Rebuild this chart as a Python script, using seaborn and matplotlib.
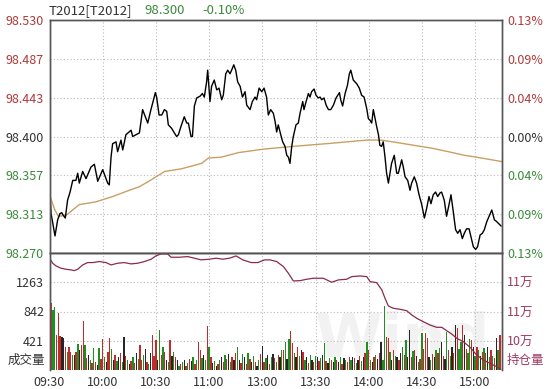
import matplotlib
matplotlib.use("Agg")
import matplotlib.pyplot as plt
import seaborn as sns
import pandas as pd
import numpy as np

# ---- data ----
time_ticks = [0, 30, 60, 90, 120, 150, 180, 210, 240]
time_labels = ["09:30", "10:00", "10:30", "11:00", "13:00", "13:30", "14:00", "14:30", "15:00"]

prev_settle = 98.400
price_ticks = [98.270, 98.313, 98.357, 98.400, 98.443, 98.487, 98.530]

# minute index (lunch break collapsed) and last price
price_min = [0, 0.9, 3.1, 4.6, 5.9, 6.9, 7.8, 8.9, 10.2, 11.6, 13.1, 14.9, 15.9, 16.8, 18.7, 20.6,
             23.4, 25.3, 27.2, 30.0, 32.8, 33.7, 34.7, 35.6, 37.5, 38.4, 40.3, 41.3, 43.1, 46.0, 46.9,
             50.7, 52.5, 55.4, 57.2, 59.7, 60.4, 61.8, 63.3, 64.8, 66.1, 67.0, 68.0, 68.9, 70.4, 71.7,
             72.7, 74.1, 76.0, 77.4, 78.3, 79.8, 80.6, 81.7, 83.0, 84.9, 86.2, 87.3, 88.6, 89.2, 89.9,
             90.5, 91.4, 92.9, 94.3, 95.6, 97.1, 98.0, 99.4, 100.5, 101.8, 102.7, 103.9, 105.0, 106.1,
             107.5, 108.8, 110.3, 111.2, 113.1, 114.4, 115.9, 116.8, 118.2, 119.7, 121.0, 122.4, 123.4,
             124.7, 126.2, 127.2, 128.1, 129.0, 130.4, 131.5, 132.8, 133.8, 134.7, 135.6, 136.6, 137.5,
             139.0, 140.3, 141.3, 142.8, 143.5, 144.7, 146.0, 146.9, 147.8, 149.2, 150.3, 151.6, 152.6,
             153.5, 154.8, 156.0, 157.3, 158.6, 160.1, 161.6, 163.5, 164.2, 165.3, 166.7, 168.0, 169.1,
             169.9, 171.3, 173.2, 174.7, 176.0, 177.4, 178.9, 179.8, 180.8, 181.7, 182.6, 183.6, 184.5,
             185.5, 186.3, 187.3, 188.2, 189.2, 190.1, 191.1, 192.0, 192.9, 194.4, 195.8, 196.7, 197.6,
             198.6, 199.5, 200.5, 202.0, 203.3, 204.2, 205.7, 207.0, 208.4, 209.9, 211.4, 212.7, 214.0,
             215.1, 216.4, 217.7, 218.9, 220.2, 221.1, 222.6, 223.9, 225.3, 226.4, 227.7, 229.0, 230.2,
             231.5, 232.8, 233.9, 235.2, 236.6, 237.7, 239.0, 240.3, 241.4, 242.8, 244.1, 245.2, 246.6,
             247.9, 249.4, 250.9, 252.2, 253.2, 254.7]
price_val = [98.344, 98.314, 98.289, 98.307, 98.314, 98.315, 98.312, 98.309, 98.329, 98.338, 98.351,
             98.351, 98.359, 98.348, 98.361, 98.353, 98.366, 98.369, 98.350, 98.363, 98.348, 98.346,
             98.377, 98.392, 98.394, 98.383, 98.396, 98.385, 98.402, 98.407, 98.400, 98.404, 98.430,
             98.415, 98.430, 98.449, 98.444, 98.424, 98.424, 98.430, 98.428, 98.413, 98.411, 98.409,
             98.404, 98.400, 98.402, 98.411, 98.422, 98.415, 98.415, 98.400, 98.400, 98.434, 98.443,
             98.445, 98.448, 98.444, 98.461, 98.474, 98.456, 98.439, 98.456, 98.463, 98.452, 98.454,
             98.441, 98.446, 98.470, 98.474, 98.470, 98.474, 98.480, 98.474, 98.461, 98.456, 98.444,
             98.450, 98.435, 98.430, 98.439, 98.444, 98.441, 98.454, 98.450, 98.454, 98.444, 98.424,
             98.430, 98.426, 98.417, 98.405, 98.413, 98.402, 98.394, 98.389, 98.379, 98.377, 98.370,
             98.389, 98.400, 98.413, 98.415, 98.426, 98.439, 98.430, 98.439, 98.448, 98.444, 98.450,
             98.453, 98.446, 98.443, 98.444, 98.441, 98.443, 98.435, 98.430, 98.430, 98.435, 98.443,
             98.449, 98.441, 98.434, 98.448, 98.457, 98.470, 98.474, 98.463, 98.459, 98.454, 98.446,
             98.444, 98.431, 98.420, 98.418, 98.415, 98.430, 98.420, 98.411, 98.402, 98.390, 98.389,
             98.394, 98.377, 98.359, 98.348, 98.359, 98.370, 98.379, 98.359, 98.359, 98.366, 98.374,
             98.366, 98.355, 98.351, 98.340, 98.348, 98.355, 98.348, 98.335, 98.324, 98.309, 98.320,
             98.333, 98.325, 98.335, 98.338, 98.333, 98.337, 98.338, 98.329, 98.311, 98.324, 98.335,
             98.316, 98.296, 98.292, 98.296, 98.286, 98.292, 98.297, 98.297, 98.288, 98.277, 98.274,
             98.277, 98.290, 98.292, 98.296, 98.305, 98.311, 98.318, 98.307, 98.305, 98.303, 98.300]

avg_min = [0, 3, 5, 9.3, 16.8, 26, 35.6, 45, 50.7, 56, 60, 65, 74.5, 85.8, 89.6, 97, 106.5, 121,
           137.5, 156.3, 179, 187, 196.7, 206, 215.5, 225, 234, 243.6, 255]
avg_val = [98.335, 98.318, 98.311, 98.312, 98.324, 98.327, 98.333, 98.340, 98.344, 98.350, 98.355,
           98.361, 98.364, 98.370, 98.376, 98.377, 98.382, 98.386, 98.389, 98.392, 98.396, 98.396,
           98.393, 98.390, 98.387, 98.383, 98.379, 98.376, 98.372]

# volume per minute (0..254) and bar colour code
volume = [1650, 960, 864, 902, 503, 825, 489, 470, 455, 335, 263, 335, 263, 215, 215,
          263, 369, 287, 359, 710, 359, 167, 215, 143, 95, 311, 119, 71, 320, 160,
          440, 190, 120, 260, 455, 300, 150, 220, 130, 180, 240, 110, 470, 200, 150,
          90, 130, 180, 100, 250, 160, 360, 140, 210, 300, 120, 80, 240, 500, 200,
          430, 150, 575, 220, 335, 260, 150, 120, 430, 200, 260, 180, 140, 60, 90,
          110, 140, 60, 100, 160, 130, 180, 80, 150, 410, 290, 170, 220, 140, 630,
          335, 180, 100, 130, 60, 90, 150, 180, 120, 210, 160, 230, 120, 190, 150,
          250, 335, 140, 100, 230, 180, 90, 250, 160, 110, 200, 120, 60, 150, 230,
          345, 120, 170, 210, 90, 181, 230, 167, 120, 220, 180, 287, 287, 407, 160,
          440, 566, 383, 250, 180, 335, 200, 287, 263, 140, 191, 100, 210, 150, 120,
          200, 191, 130, 170, 215, 383, 130, 100, 170, 143, 120, 190, 150, 110, 180,
          90, 170, 150, 120, 191, 140, 180, 167, 100, 150, 200, 130, 180, 240, 407,
          287, 150, 120, 190, 220, 160, 250, 407, 150, 921, 470, 455, 260, 150, 287,
          200, 191, 140, 250, 335, 220, 431, 180, 575, 191, 280, 287, 200, 120, 160,
          527, 300, 527, 455, 191, 143, 230, 180, 287, 240, 311, 407, 200, 160, 551,
          287, 200, 335, 250, 647, 600, 300, 407, 647, 503, 300, 250, 440, 431, 335,
          200, 335, 287, 200, 263, 311, 239, 335, 191, 287, 200, 167, 455, 287, 503]
vol_code = ("grggrrrkkrgrrgk" "rgkrrgrkgrgrkgr" "rgkrrgkrgkrgkrg" "krgrkgrrgkrgkrr"
            "rkgrgrkgrkgrkgr" "gkrgrkgrgrrgkgr" "grkgkrgkrgrkgrk" "rgkrgkrgrkgrkgr"
            "krgkrgkrgrkgrgk" "grrgkrgkrgkrgkr" "gkrgkgrkgrkgrkg" "rkgrrgkrgkrgkrg"
            "rgkrgkrkggrrgkr" "gkrkgrgkkrgrkgr" "grrrkgrkgrgkrkg" "rgkrkrggrkrggrk"
            "grgkrgrkgrgrkgr")

vol_ticks = [421, 842, 1263]

# open interest (持仓量)
oi_min = [0, 1.8, 3.7, 6.5, 9.3, 12.1, 14.0, 15.9, 18.7, 21.5, 24.3, 28.1, 31.9, 34.7, 38.4, 42.2,
          46.0, 49.7, 53.5, 57.3, 60.0, 62.9, 66.6, 68.5, 73.2, 77.9, 81.7, 85.5, 90.1, 93.9, 97.7,
          101.5, 105.2, 109.0, 113.7, 117.5, 121.2, 124.4, 128.1, 131.9, 134.7, 137.5, 141.3, 145.0,
          148.8, 154.4, 159.1, 162.9, 167.6, 170.4, 175.1, 178.9, 180.8, 184.5, 187.4, 189.2, 191.1,
          193.9, 197.7, 201.4, 204.3, 207.1, 210.8, 214.6, 218.3, 221.2, 224.0, 226.8, 229.7, 233.4,
          237.2, 240.9, 244.7, 248.5, 252.2, 254.5]
oi_val = [115300, 114600, 114230, 113920, 113780, 113690, 113590, 113780, 114370, 114690, 114690,
          114830, 114690, 114370, 114600, 114690, 114510, 114600, 114830, 115150, 115600, 115880,
          115880, 115420, 115420, 115510, 115290, 115060, 115150, 115290, 115150, 115290, 115600,
          115060, 114690, 114690, 115060, 115060, 114830, 114140, 113230, 112180, 112220, 112410,
          112550, 112550, 112000, 112320, 112410, 112770, 112860, 112770, 112080, 111950, 110950,
          109810, 108750, 108440, 108300, 108110, 107520, 107070, 106600, 106150, 105840, 105840,
          105370, 104920, 104330, 103870, 103100, 102040, 101360, 100900, 100440, 100080]
oi_ticks = [104000, 108000, 112000]
oi_labels = ["10万", "11万", "11万"]

# ---- figure ----
sns.set_style("white")
plt.rcParams['font.family'] = ['Noto Sans CJK SC', 'DejaVu Sans']

RED, GREEN, GREY = "#b03a3a", "#3a8a3a", "#333333"
OI_COL = "#a03a60"
FRAME = "#555555"

W, H = 547, 389
fig = plt.figure(figsize=(W / 100, H / 100), dpi=100)
fig.patch.set_facecolor("white")
left, right = 49.5 / W, 501.7 / W
ax = fig.add_axes([left, 1 - 253 / H, right - left, 233 / H])
axv = fig.add_axes([left, 1 - 370 / H, right - left, 117 / H])

# price panel
price_df = pd.DataFrame({"t": price_min, "p": price_val})
avg_df = pd.DataFrame({"t": avg_min, "p": avg_val})
sns.lineplot(data=avg_df, x="t", y="p", ax=ax, color="#c8a064", lw=1.0, errorbar=None)
sns.lineplot(data=price_df, x="t", y="p", ax=ax, color="black", lw=1.0, errorbar=None)
ax.set_xlim(0, 255)
ax.set_ylim(price_ticks[0], price_ticks[-1])
ax.set_yticks(price_ticks)
ax.set_yticklabels([f"{v:.3f}" for v in price_ticks])
ax.set_xticks(time_ticks)
ax.set_xticklabels([])
ax.set_xlabel("")
ax.set_ylabel("")
ax.grid(True, ls=(0, (1, 2)), color="#bbbbbb", lw=0.8)
ax.tick_params(length=0, pad=4, labelsize=9)
for lab, v in zip(ax.get_yticklabels(), price_ticks):
    lab.set_color(RED if v > prev_settle + 1e-6 else (GREEN if v < prev_settle - 1e-6 else GREY))
for s in ax.spines.values():
    s.set_color(FRAME)
    s.set_linewidth(1)

axp = ax.twinx()
axp.set_ylim(ax.get_ylim())
axp.set_yticks(price_ticks)
axp.set_yticklabels([f"{abs(v - prev_settle) / prev_settle * 100:.2f}%" for v in price_ticks])
axp.tick_params(length=0, pad=4, labelsize=9)
for lab, v in zip(axp.get_yticklabels(), price_ticks):
    lab.set_color(RED if v > prev_settle + 1e-6 else (GREEN if v < prev_settle - 1e-6 else GREY))
for s in axp.spines.values():
    s.set_color(FRAME)
    s.set_linewidth(1)

# volume panel
vol_df = pd.DataFrame({"t": np.arange(len(volume)), "v": volume, "c": list(vol_code[:len(volume)])})
wm = axv.text(0.78, 0.0, "Wind", transform=axv.transAxes, ha="center", va="bottom",
              fontsize=44, fontweight="bold", color="#f2f2f2", zorder=0, family="DejaVu Sans")
wm.set_clip_on(True)
sns.barplot(data=vol_df, x="t", y="v", hue="c", native_scale=True, dodge=False, width=0.75,
            palette={"r": "#c02c2c", "g": "#1f8f1f", "k": "#262626"}, saturation=1,
            errorbar=None, linewidth=0, legend=False, ax=axv)
axv.set_xlim(0, 255)
axv.set_ylim(0, 1684)
axv.set_yticks(vol_ticks)
axv.set_yticklabels([str(v) for v in vol_ticks], color=GREY)
axv.set_xticks(time_ticks)
axv.set_xticklabels(time_labels, color=GREY)
axv.set_xlabel("")
axv.set_ylabel("")
axv.grid(True, ls=(0, (1, 2)), color="#bbbbbb", lw=0.8)
axv.set_axisbelow(True)
axv.tick_params(length=0, pad=4, labelsize=9)
for s in axv.spines.values():
    s.set_color(FRAME)
    s.set_linewidth(1)
axv.spines["bottom"].set_visible(False)
axv.text(-0.01, 0.08, "成交量", transform=axv.transAxes, ha="right", va="center",
         fontsize=9, color=GREY)

axo = axv.twinx()
oi_df = pd.DataFrame({"t": oi_min, "oi": oi_val})
sns.lineplot(data=oi_df, x="t", y="oi", ax=axo, color="#8c2a4a", lw=0.9, errorbar=None)
axo.set_xlim(0, 255)
axo.set_ylim(100000, 116000)
axo.set_yticks(oi_ticks)
axo.set_yticklabels(oi_labels, color=OI_COL)
axo.set_ylabel("")
axo.tick_params(length=0, pad=4, labelsize=9)
for s in axo.spines.values():
    s.set_color(FRAME)
    s.set_linewidth(1)
axo.spines["bottom"].set_visible(False)
axo.text(1.01, 0.08, "持仓量", transform=axo.transAxes, ha="left", va="center",
         fontsize=9, color=OI_COL)

# header
fig.text(49 / W, 1 - 11 / H, "T2012[T2012]", fontsize=9.5, color=GREY, va="center")
fig.text(144 / W, 1 - 11 / H, "98.300", fontsize=9.5, color=GREEN, va="center")
fig.text(202 / W, 1 - 11 / H, "-0.10%", fontsize=9.5, color=GREEN, va="center")

fig.savefig("out.png", dpi=100, facecolor="white")
